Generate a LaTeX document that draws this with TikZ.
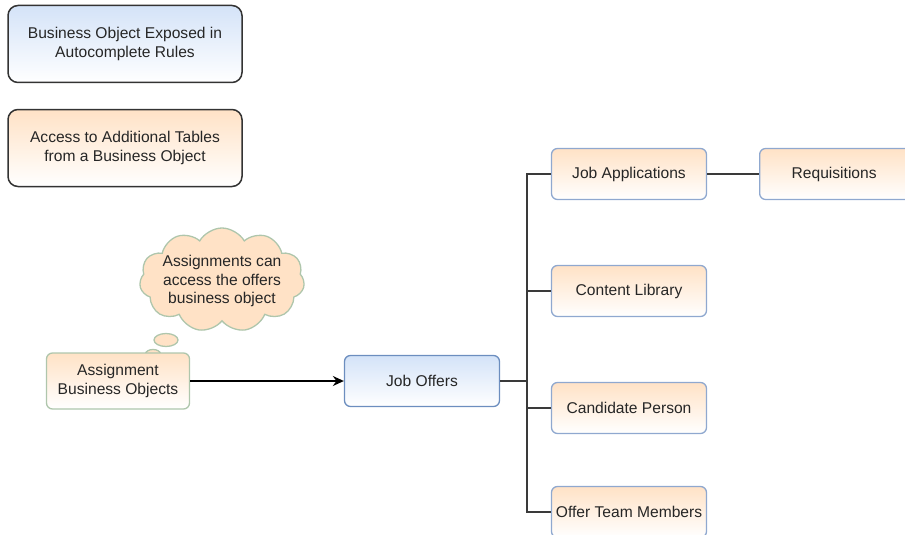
\documentclass[tikz,border=0pt]{standalone}
\usepackage{fontspec}
\setmainfont{Liberation Sans}
\usepackage{tikz}
\usetikzlibrary{shapes.symbols, shapes.geometric}
\usetikzlibrary{arrows.meta}

\definecolor{blueedge}{HTML}{6C8EBF}
\definecolor{bluefill}{HTML}{D4E3F8}
\definecolor{peachfill}{HTML}{FFE2C6}
\definecolor{peachedge}{HTML}{8FA8CF}
\definecolor{greenedge}{HTML}{AFC6AC}
\definecolor{legendedge}{HTML}{333333}
\definecolor{wireclr}{HTML}{3A3A3A}

\begin{document}
\begin{tikzpicture}[x=1pt, y=-1pt,
        every node/.style={font=\fontsize{15.6}{18.5}\selectfont, text=black!85, align=center},
        box/.style={rounded corners=6pt, line width=1.3pt, minimum width=155pt, minimum height=51pt, inner sep=0pt},
        bluebox/.style={box, draw=blueedge, top color=bluefill, bottom color=white},
        peachbox/.style={box, draw=peachedge, top color=peachfill, bottom color=white},
        legendbox/.style={rounded corners=10pt, line width=1.5pt, draw=legendedge, minimum width=234pt, minimum height=77pt, inner sep=0pt},
        bubble/.style={ellipse, draw=greenedge, fill=peachfill, line width=1.3pt, inner sep=0pt},
        wire/.style={draw=wireclr, line width=1.6pt}]
        \useasboundingbox (0,0) rectangle (905,535);
        % legend
        \node[legendbox, top color=bluefill, bottom color=white] (exposed) at (125,44)
                {Business Object Exposed in\\Autocomplete Rules};
        \node[legendbox, top color=peachfill, bottom color=white] (additional) at (125,148)
                {Access to Additional Tables\\from a Business Object};
        % thought cloud
        \node[cloud, cloud puffs=11, cloud puff arc=120, draw=greenedge, fill=peachfill,
                line width=1.3pt, inner sep=0pt, minimum width=165pt, minimum height=104pt] (cloudshape) at (222,280) {};
        \node (note) at (222,281) {Assignments can\\access the offers\\business object};
        \node[bubble, minimum width=24pt, minimum height=13pt] (bubbleA) at (166,340) {};
        \node[bubble, minimum width=15pt, minimum height=9pt] (bubbleB) at (153,354) {};
        % main nodes
        \node[box, draw=greenedge, top color=peachfill, bottom color=white, minimum width=143pt, minimum height=56pt]
                (assign) at (118,381) {Assignment\\Business Objects};
        \node[bluebox] (offers) at (422,381) {Job Offers};
        \node[peachbox] (applications) at (629,174) {Job Applications};
        \node[peachbox] (library) at (629,291) {Content Library};
        \node[peachbox] (candidate) at (629,408) {Candidate Person};
        \node[peachbox] (team) at (629,512) {Offer Team Members};
        \node[peachbox, anchor=west] (requisitions) at (759,174) {\hspace*{-6pt}Requisitions};
        % connectors
        \coordinate (trunk) at (527,381);
        \draw[wire, black, -{Stealth[length=11pt, width=10pt]}] (assign) -- (offers);
        \draw[wire] (offers) -- (trunk);
        \draw[wire] (applications.west) -| (trunk) |- (team.west);
        \draw[wire] (library.west) -- (library.west -| trunk);
        \draw[wire] (candidate.west) -- (candidate.west -| trunk);
        \draw[wire] (applications) -- (requisitions);
\end{tikzpicture}
\end{document}
